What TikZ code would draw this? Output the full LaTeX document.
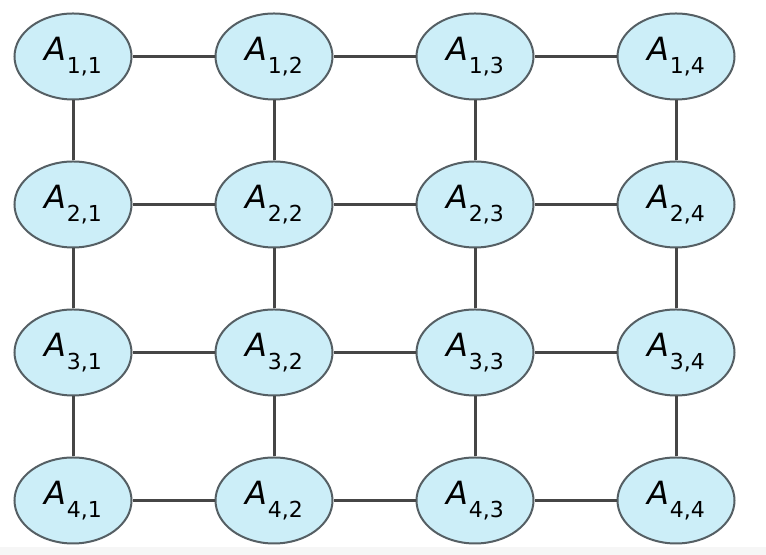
\documentclass[tikz,border=0pt]{standalone}
\usepackage{fontspec}
\setmainfont{DejaVu Sans}
\usepackage{tikz}
\usetikzlibrary{shapes.geometric,positioning}
\definecolor{cellblue}{RGB}{204,238,248}
\definecolor{edgegray}{RGB}{70,70,70}
\definecolor{rimgray}{RGB}{85,95,100}
\newcommand{\Alab}[2]{\fontsize{16}{16}\selectfont\textit{A}\kern0.5pt\raisebox{-6.5pt}{\fontsize{11}{11}\selectfont #1,#2}}

\begin{document}
\begin{tikzpicture}[on grid,node distance=74pt and 100.5pt]

  \tikzstyle{cellnode}=[draw=rimgray,line width=1pt,shape=ellipse,fill=cellblue,minimum width=58.5pt,minimum height=43pt,inner sep=0pt]
  \tikzstyle{link}=[draw=edgegray,line width=1.5pt]

  \useasboundingbox (0,0) rectangle (383pt,277.5pt);
  \fill[gray!7] (0,0) rectangle (383pt,4pt);

  \node[cellnode] (a11) at (36.5pt,249.25pt) {\Alab{1}{1}};
  \node[cellnode] (a12) [right=of a11]       {\Alab{1}{2}};
  \node[cellnode] (a13) [right=of a12]       {\Alab{1}{3}};
  \node[cellnode] (a14) [right=of a13]       {\Alab{1}{4}};
  \node[cellnode] (a21) [below=of a11]       {\Alab{2}{1}};
  \node[cellnode] (a22) [right=of a21]       {\Alab{2}{2}};
  \node[cellnode] (a23) [right=of a22]       {\Alab{2}{3}};
  \node[cellnode] (a24) [right=of a23]       {\Alab{2}{4}};
  \node[cellnode] (a31) [below=of a21]       {\Alab{3}{1}};
  \node[cellnode] (a32) [right=of a31]       {\Alab{3}{2}};
  \node[cellnode] (a33) [right=of a32]       {\Alab{3}{3}};
  \node[cellnode] (a34) [right=of a33]       {\Alab{3}{4}};
  \node[cellnode] (a41) [below=of a31]       {\Alab{4}{1}};
  \node[cellnode] (a42) [right=of a41]       {\Alab{4}{2}};
  \node[cellnode] (a43) [right=of a42]       {\Alab{4}{3}};
  \node[cellnode] (a44) [right=of a43]       {\Alab{4}{4}};

  % rows
  \path[link] (a11) edge (a12)  (a12) edge (a13)  (a13) edge (a14)
              (a21) edge (a22)  (a22) edge (a23)  (a23) edge (a24)
              (a31) edge (a32)  (a32) edge (a33)  (a33) edge (a34)
              (a41) edge (a42)  (a42) edge (a43)  (a43) edge (a44);

  % columns
  \path[link] (a11) edge (a21)  (a21) edge (a31)  (a31) edge (a41)
              (a12) edge (a22)  (a22) edge (a32)  (a32) edge (a42)
              (a13) edge (a23)  (a23) edge (a33)  (a33) edge (a43)
              (a14) edge (a24)  (a24) edge (a34)  (a34) edge (a44);

\end{tikzpicture}
\end{document}
